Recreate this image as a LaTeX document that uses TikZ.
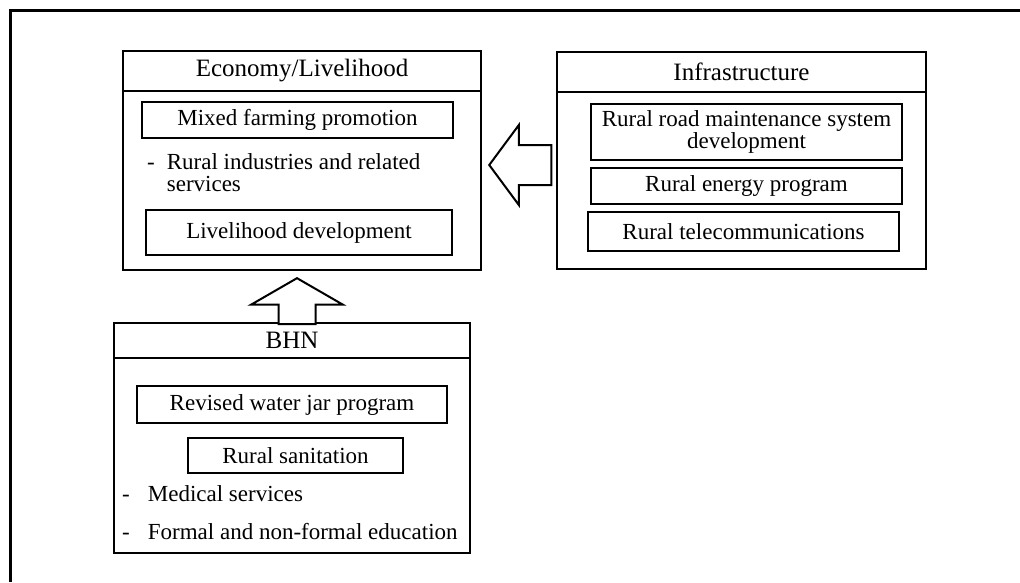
\documentclass[tikz,border=0pt]{standalone}
\usepackage{fontspec}
\setmainfont{Liberation Serif}
\usetikzlibrary{shapes.arrows}
\begin{document}
\begin{tikzpicture}[x=1pt, y=-1pt,
	panel/.style={draw, line width=2.2pt, inner sep=0pt, font=\fontsize{25}{25}\selectfont},
	item/.style={draw, line width=2pt, inner sep=0pt, align=center, font=\fontsize{23}{22}\selectfont},
	note/.style={anchor=west, inner sep=0pt, font=\fontsize{23}{22}\selectfont},
	blockarrow/.style={draw, single arrow, line width=2pt, inner sep=0pt, fill=white}]
	\useasboundingbox (0, 0) rectangle (1020, 582);
	\draw[line width=3pt] (10, 582) -- (10, 10) -- (1020, 10);
	\node[panel, minimum width=358, minimum height=40] at (302, 71) (econ) {Economy/Livelihood};
	\node[panel, minimum width=358, minimum height=179] at (302, 180.5) (econbody) {};
	\node[item, minimum width=311, minimum height=36] at (297.5, 120) (mixed) {Mixed farming promotion};
	\node[note] at (147, 176) (rural) {\begin{tabular}{@{}l@{\hspace{12pt}}l@{}}- & Rural industries and related\\ & services\end{tabular}};
	\node[item, minimum width=306, minimum height=45] at (299, 232.5) (liveli) {Livelihood development};
	\node[panel, minimum width=369, minimum height=40] at (741.5, 72) (infra) {Infrastructure};
	\node[panel, minimum width=369, minimum height=177] at (741.5, 180.5) (infrabody) {};
	\node[item, minimum width=311, minimum height=56] at (746.5, 132) (road) {Rural road maintenance system\\development};
	\node[item, minimum width=311, minimum height=36] at (746.5, 186) (energy) {Rural energy program};
	\node[item, minimum width=311, minimum height=39] at (743.5, 231.5) (tele) {Rural telecommunications};
	\node[panel, minimum width=356, minimum height=35] at (292, 340.5) (bhn) {BHN};
	\node[panel, minimum width=356, minimum height=195] at (292, 455.5) (bhnbody) {};
	\node[item, minimum width=310, minimum height=37] at (292, 404.5) (water) {Revised water jar program};
	\node[item, minimum width=215, minimum height=35] at (295.5, 455.5) (sanit) {Rural sanitation};
	\node[note] at (122, 497) (medical) {\begin{tabular}{@{}l@{\hspace{18pt}}l@{}}- & Medical services\end{tabular}};
	\node[note] at (122, 535) (formal) {\begin{tabular}{@{}l@{\hspace{18pt}}l@{}}- & Formal and non-formal education\end{tabular}};
	\node[blockarrow, shape border rotate=180, inner ysep=19, minimum height=62, single arrow head extend=20, single arrow tip angle=107, anchor=tip] at (488, 165) (toecon) {};
	\node[blockarrow, shape border rotate=90, inner xsep=17.5, minimum height=46, single arrow head extend=27.5, single arrow tip angle=120, anchor=tip] at (297, 277) (frombhn) {};
\end{tikzpicture}
\end{document}
